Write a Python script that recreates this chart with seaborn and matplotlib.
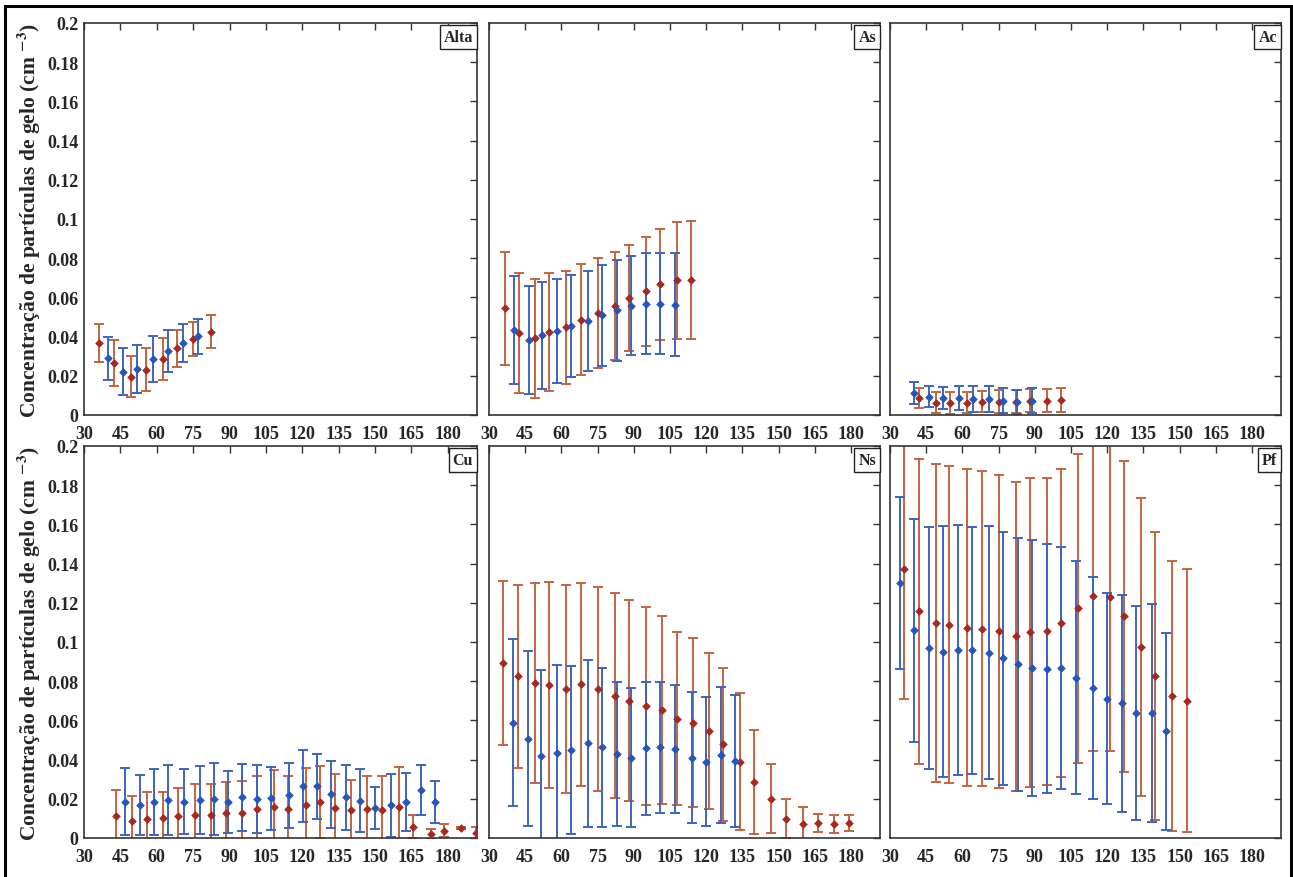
import matplotlib
matplotlib.use("Agg")
import matplotlib.pyplot as plt
from matplotlib.patches import Rectangle
from matplotlib.ticker import FuncFormatter
import seaborn as sns
import pandas as pd

# ---- values (x, mean, error half-width) ----
alta_red_x = [36, 42.5, 49.5, 55.5, 62.5, 68.5, 75, 82.3]
alta_red_y = [0.0367, 0.0264, 0.0196, 0.0231, 0.0286, 0.0340, 0.0388, 0.0425]
alta_red_e = [0.0096, 0.0118, 0.0106, 0.0111, 0.0105, 0.0096, 0.0085, 0.0085]
alta_blue_x = [40, 46, 52, 58.5, 64.5, 71, 77]
alta_blue_y = [0.0289, 0.0221, 0.0235, 0.0286, 0.0328, 0.0367, 0.0401]
alta_blue_e = [0.0110, 0.0120, 0.0122, 0.0117, 0.0108, 0.0096, 0.0091]

as_red_x = [36.5, 42.5, 49, 55, 62, 68, 75, 82, 88, 95, 101, 108, 113.5]
as_red_y = [0.0544, 0.0417, 0.0391, 0.0422, 0.0447, 0.0485, 0.0520, 0.0558,
            0.0597, 0.0631, 0.0667, 0.0687, 0.0690]
as_red_e = [0.0290, 0.0305, 0.0305, 0.0300, 0.0288, 0.0283, 0.0280, 0.0276,
            0.0271, 0.0279, 0.0282, 0.0299, 0.0301]
as_blue_x = [40.5, 46.5, 52, 58, 64, 71, 77, 83, 89, 95, 101, 107]
as_blue_y = [0.0432, 0.0383, 0.0406, 0.0427, 0.0454, 0.0480, 0.0508, 0.0534,
             0.0558, 0.0568, 0.0568, 0.0563]
as_blue_e = [0.0276, 0.0277, 0.0274, 0.0265, 0.0261, 0.0257, 0.0257, 0.0256,
             0.0254, 0.0257, 0.0258, 0.0264]

ac_red_x = [42, 49, 55, 62, 68, 75, 82, 88, 95, 101]
ac_red_y = [0.0087, 0.0063, 0.0060, 0.0063, 0.0068, 0.0068, 0.0068, 0.0073, 0.0073, 0.0077]
ac_red_e = [0.0053, 0.0055, 0.0056, 0.0055, 0.0053, 0.0060, 0.0059, 0.0060, 0.0060, 0.0061]
ac_blue_x = [40, 46, 52, 58.5, 64.5, 71, 77, 82.5, 89]
ac_blue_y = [0.0112, 0.0094, 0.0087, 0.0088, 0.0082, 0.0083, 0.0073, 0.0068, 0.0073]
ac_blue_e = [0.0057, 0.0055, 0.0055, 0.0060, 0.0066, 0.0066, 0.0064, 0.0061, 0.0065]

cu_red_x = [43.1, 49.8, 55.8, 62.7, 68.6, 75.6, 82.5, 88.5, 95.3, 101.4, 108.3, 114.1,
            121.4, 127.2, 133.6, 140.1, 146.7, 152.7, 159.7, 165.8, 172.9, 178.6, 185.5, 191.6]
cu_red_y = [0.0110, 0.0086, 0.0097, 0.0100, 0.0112, 0.0119, 0.0119, 0.0127, 0.0130, 0.0146,
            0.0159, 0.0146, 0.0169, 0.0183, 0.0154, 0.0141, 0.0149, 0.0144, 0.0159, 0.0058,
            0.0020, 0.0037, 0.0051, 0.0025]
cu_red_e = [0.0134, 0.0129, 0.0140, 0.0137, 0.0142, 0.0156, 0.0156, 0.0159, 0.0160, 0.0171,
            0.0188, 0.0171, 0.0187, 0.0183, 0.0170, 0.0154, 0.0165, 0.0173, 0.0204, 0.0059,
            0.0027, 0.0034, 0.0005, 0.0029]
cu_blue_x = [47.0, 53.1, 58.9, 64.8, 71.4, 77.8, 83.6, 89.5, 95.3, 101.4, 107.1, 114.4,
             120.2, 126.1, 131.9, 138.2, 143.9, 149.9, 156.6, 162.6, 168.9, 174.6]
cu_blue_y = [0.0185, 0.0168, 0.0185, 0.0193, 0.0185, 0.0193, 0.0200, 0.0185, 0.0207, 0.0198,
             0.0202, 0.0219, 0.0266, 0.0263, 0.0222, 0.0207, 0.0190, 0.0154, 0.0168, 0.0185,
             0.0244, 0.0185]
cu_blue_e = [0.0170, 0.0155, 0.0169, 0.0180, 0.0167, 0.0175, 0.0183, 0.0157, 0.0170, 0.0173,
             0.0160, 0.0166, 0.0183, 0.0165, 0.0172, 0.0166, 0.0160, 0.0107, 0.0161, 0.0149,
             0.0127, 0.0106]

ns_red_x = [36, 42, 49, 55, 62, 68, 75, 82, 88, 95, 101.5, 108, 114.5, 121, 127, 134,
            140, 147, 153, 160, 166.5, 173, 179]
ns_red_y = [0.0893, 0.0824, 0.0790, 0.0780, 0.0761, 0.0785, 0.0761, 0.0727, 0.0701, 0.0674,
            0.0654, 0.0609, 0.0589, 0.0546, 0.0478, 0.0389, 0.0285, 0.0200, 0.0099, 0.0072,
            0.0077, 0.0072, 0.0077]
ns_red_e = [0.0416, 0.0466, 0.0511, 0.0525, 0.0529, 0.0518, 0.0519, 0.0523, 0.0514, 0.0505,
            0.0480, 0.0440, 0.0432, 0.0399, 0.0389, 0.0349, 0.0265, 0.0176, 0.0101, 0.0087,
            0.0048, 0.0044, 0.0042]
ns_blue_x = [40, 46, 51.5, 58, 64, 71, 77, 83, 89, 95, 101, 107, 114, 120, 126, 132]
ns_blue_y = [0.0589, 0.0507, 0.0418, 0.0432, 0.0449, 0.0483, 0.0462, 0.0428, 0.0410, 0.0457,
             0.0462, 0.0454, 0.0410, 0.0389, 0.0423, 0.0394]
ns_blue_e = [0.0424, 0.0447, 0.0439, 0.0450, 0.0431, 0.0425, 0.0405, 0.0369, 0.0356, 0.0341,
             0.0334, 0.0325, 0.0335, 0.0328, 0.0345, 0.0336]

pf_red_x = [36, 42, 49, 54.5, 62, 68, 75, 82, 88, 95, 101, 108, 114, 121, 127, 134, 140, 147, 153]
pf_red_y = [0.1371, 0.1156, 0.1098, 0.1088, 0.1072, 0.1067, 0.1054, 0.1030, 0.1049, 0.1054,
            0.1098, 0.1171, 0.1234, 0.1229, 0.1132, 0.0974, 0.0827, 0.0726, 0.0701]
pf_red_e = [0.0662, 0.0780, 0.0810, 0.0808, 0.0809, 0.0803, 0.0799, 0.0788, 0.0789, 0.0783,
            0.0786, 0.0790, 0.0791, 0.0786, 0.0794, 0.0760, 0.0733, 0.0688, 0.0670]
pf_blue_x = [34, 40, 46, 52, 58, 64, 71, 77, 83, 89, 95, 101, 107, 114, 120, 126, 132, 138.5, 144.5]
pf_blue_y = [0.1303, 0.1059, 0.0970, 0.0951, 0.0960, 0.0957, 0.0946, 0.0917, 0.0887, 0.0866,
             0.0863, 0.0866, 0.0818, 0.0766, 0.0711, 0.0687, 0.0638, 0.0638, 0.0544]
pf_blue_e = [0.0439, 0.0567, 0.0617, 0.0640, 0.0637, 0.0630, 0.0646, 0.0645, 0.0645, 0.0652,
             0.0635, 0.0618, 0.0596, 0.0566, 0.0540, 0.0554, 0.0547, 0.0558, 0.0503]

panels = ["Alta", "As", "Ac", "Cu", "Ns", "Pf"]
xticks = [30, 45, 60, 75, 90, 105, 120, 135, 150, 165, 180]
yticks = [0, 0.02, 0.04, 0.06, 0.08, 0.1, 0.12, 0.14, 0.16, 0.18, 0.2]
ylabel = r"Concentração de partículas de gelo (cm $^{\mathbf{-3}}$)"

series = {
    ("Alta", "red"): (alta_red_x, alta_red_y, alta_red_e),
    ("Alta", "blue"): (alta_blue_x, alta_blue_y, alta_blue_e),
    ("As", "red"): (as_red_x, as_red_y, as_red_e),
    ("As", "blue"): (as_blue_x, as_blue_y, as_blue_e),
    ("Ac", "red"): (ac_red_x, ac_red_y, ac_red_e),
    ("Ac", "blue"): (ac_blue_x, ac_blue_y, ac_blue_e),
    ("Cu", "red"): (cu_red_x, cu_red_y, cu_red_e),
    ("Cu", "blue"): (cu_blue_x, cu_blue_y, cu_blue_e),
    ("Ns", "red"): (ns_red_x, ns_red_y, ns_red_e),
    ("Ns", "blue"): (ns_blue_x, ns_blue_y, ns_blue_e),
    ("Pf", "red"): (pf_red_x, pf_red_y, pf_red_e),
    ("Pf", "blue"): (pf_blue_x, pf_blue_y, pf_blue_e),
}
rows = []
for (p, g), (xs, ys, es) in series.items():
    for x, y, e in zip(xs, ys, es):
        rows.append({"panel": p, "group": g, "x": x, "y": y, "err": e})
df = pd.DataFrame(rows)

bar_col = {"red": "#c4643e", "blue": "#3c64c4"}
pt_col = {"red": "#a8281c", "blue": "#2456bc"}

sns.set_style("white")
plt.rcParams["font.family"] = ["Liberation Serif", "DejaVu Serif"]
plt.rcParams["font.weight"] = "bold"
plt.rcParams["mathtext.fontset"] = "stix"

fig = plt.figure(figsize=(12.93, 8.78), dpi=100)
W, H = 1293, 878
lefts = [84, 489, 890]
widths = [393, 391, 391]
tops = [24, 447]
height = 392

for i, p in enumerate(panels):
    r, c = divmod(i, 3)
    ax = fig.add_axes([lefts[c] / W, 1 - (tops[r] + height) / H, widths[c] / W, height / H])
    sub = df[df["panel"] == p]
    for g in ["red", "blue"]:
        d = sub[sub["group"] == g]
        ax.errorbar(d["x"], d["y"], yerr=d["err"], fmt="none", ecolor=bar_col[g],
                    elinewidth=1.4, capsize=3.8, capthick=1.4, zorder=2)
    for g in ["red", "blue"]:
        d = sub[sub["group"] == g]
        sns.scatterplot(data=d, x="x", y="y", ax=ax, marker="D", s=15,
                        color=pt_col[g], edgecolor=pt_col[g], linewidth=0.5,
                        zorder=3, legend=False)
    ax.set_xlim(30, 192)
    ax.set_ylim(0, 0.2)
    ax.set_xticks(xticks)
    ax.set_yticks(yticks)
    ax.yaxis.set_major_formatter(FuncFormatter(lambda v, pos: "%g" % v))
    ax.tick_params(direction="in", top=True, right=True, length=5, width=1,
                   color="#333333", labelsize=13)
    ax.tick_params(axis="x", pad=7)
    ax.tick_params(axis="y", pad=4)
    for lab in ax.get_xticklabels() + ax.get_yticklabels():
        lab.set_fontweight("bold")
    if c != 0:
        ax.set_yticklabels([])
    ax.set_xlabel("")
    if c == 0:
        ax.set_ylabel(ylabel, fontsize=15.5, fontweight="bold")
        ax.yaxis.set_label_coords(-0.105, 0.5)
    else:
        ax.set_ylabel("")
    for s in ax.spines.values():
        s.set_color("#333333")
        s.set_linewidth(1.2)
    ax.text(0.99, 0.985, p, transform=ax.transAxes, ha="right", va="top",
            fontsize=11.5, fontweight="bold",
            bbox=dict(boxstyle="square,pad=0.25", fc="white", ec="#222222", lw=1.0))

fig.add_artist(Rectangle((5 / W, -0.01), (1291 - 5) / W, 1 - 7 / H + 0.01,
                         transform=fig.transFigure, fill=False, lw=2.2, ec="black"))

fig.savefig("out.png", dpi=100)
